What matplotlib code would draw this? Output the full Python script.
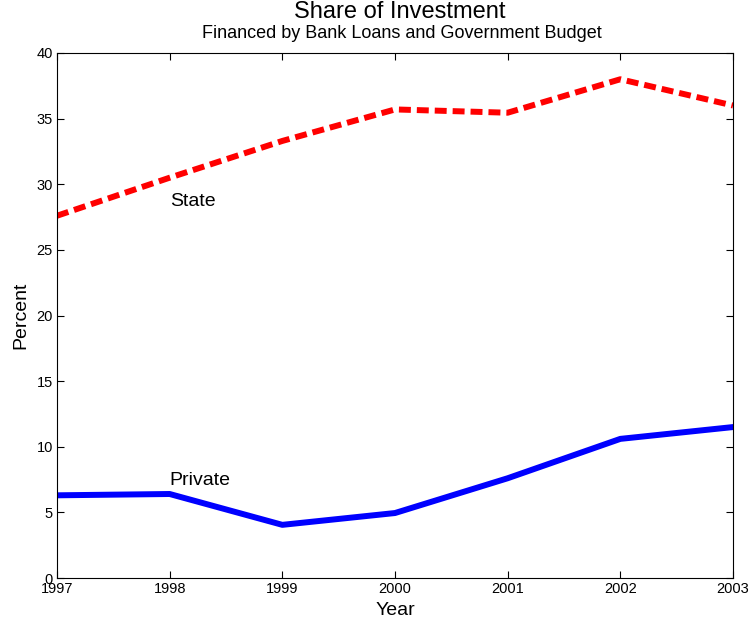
import matplotlib.pyplot as plt
import numpy as np

plt.rcParams['font.family'] = ['Liberation Sans', 'DejaVu Sans']

# Data
years = [1997, 1998, 1999, 2000, 2001, 2002, 2003]
state = [27.6, 30.5, 33.3, 35.7, 35.45, 38.0, 36.0]
private = [6.3, 6.4, 4.05, 4.95, 7.6, 10.6, 11.5]

fig = plt.figure(figsize=(7.49, 6.28), dpi=100)
ax = fig.add_axes([57 / 749, 1 - 578 / 628, (733 - 57) / 749, (578 - 53) / 628])

ax.plot(years, state, color='red', linewidth=4.3, dashes=(2.0, 1.0))
ax.plot(years, private, color='blue', linewidth=4.3)

ax.text(1998, 28.7, 'State', fontsize=14, ha='left', va='center')
ax.text(1998, 7.4, 'Private', fontsize=14, ha='left', va='center')

ax.set_xlim(1997, 2003)
ax.set_ylim(0, 40)
ax.set_xticks(years)
ax.set_yticks(np.arange(0, 41, 5))
ax.tick_params(direction='in', top=True, right=True, labelsize=10.5, length=5, pad=3)
ax.set_xlabel('Year', fontsize=14, labelpad=4)
ax.set_ylabel('Percent', fontsize=14, labelpad=5)

fig.text(400 / 749, 1 - 12 / 628, 'Share of Investment', fontsize=17, ha='center', va='center')
fig.text(402 / 749, 1 - 34 / 628, 'Financed by Bank Loans and Government Budget', fontsize=13, ha='center', va='center')

fig.savefig('out.png', dpi=100)
